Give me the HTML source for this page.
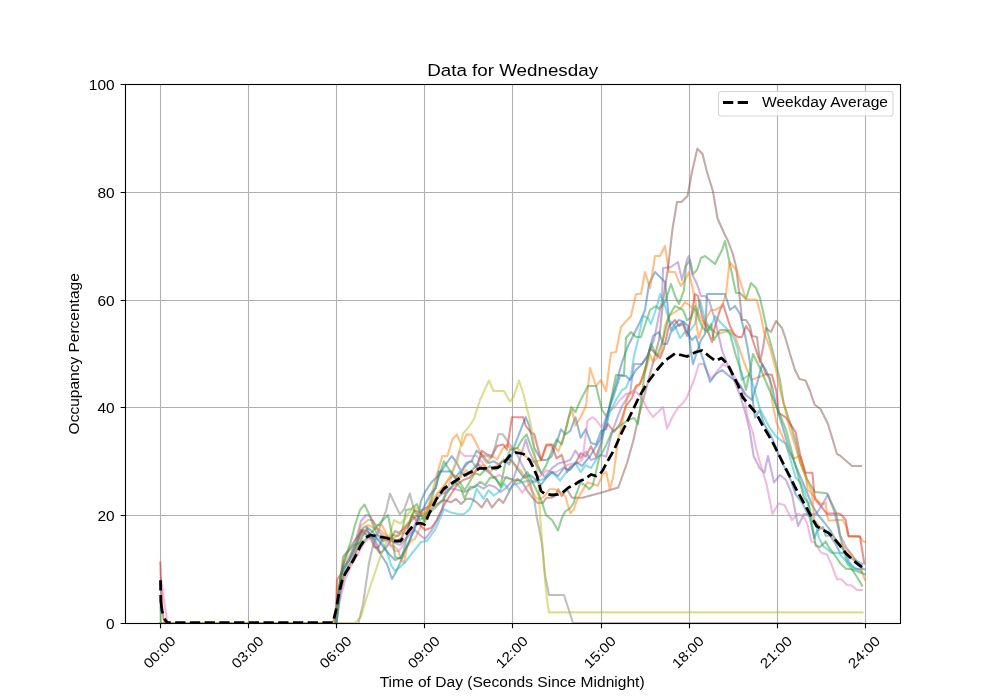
<!DOCTYPE html><html><head><meta charset="utf-8"><style>html,body{margin:0;padding:0;background:#fff;}svg{display:block;will-change:transform;}text{font-family:"Liberation Sans",sans-serif;fill:#000;}</style></head><body><svg width="1000" height="700" viewBox="0 0 1000 700"><rect x="0" y="0" width="1000" height="700" fill="#fff"/><path d="M160.5 84.0V623.0M248.5 84.0V623.0M336.5 84.0V623.0M424.5 84.0V623.0M512.5 84.0V623.0M601.5 84.0V623.0M689.5 84.0V623.0M777.5 84.0V623.0M865.5 84.0V623.0M125.0 623.5H900.0M125.0 515.5H900.0M125.0 407.5H900.0M125.0 300.5H900.0M125.0 192.5H900.0M125.0 84.5H900.0" stroke="#b0b0b0" stroke-width="1.11" fill="none"/><path d="M160.8 578.5 L164.0 600.0 L167.1 620.8 L168.5 623.0" stroke="#e377c2" stroke-opacity="0.5" stroke-width="2.08" fill="none" stroke-linejoin="round" stroke-linecap="square"/><path d="M160.3 562.6 L161.2 585.0 L162.3 608.0 L163.5 619.0 L165.5 623.0" stroke="#d62728" stroke-opacity="0.5" stroke-width="2.08" fill="none" stroke-linejoin="round" stroke-linecap="square"/><path d="M160.5 606.8 L160.9 623.0" stroke="#2ca02c" stroke-opacity="0.5" stroke-width="2.08" fill="none" stroke-linejoin="round" stroke-linecap="square"/><path d="M336.5 623.0 L339.0 590.0 L343.0 568.0 L349.0 560.0 L356.0 545.0 L363.0 528.0 L366.0 526.0 L370.0 535.0 L375.0 540.0 L381.0 555.0 L387.0 564.0 L392.0 579.0 L396.0 572.0 L400.0 563.0 L409.0 542.0 L417.0 521.0 L421.0 501.0 L425.0 492.0 L432.0 481.7 L438.9 474.9 L445.7 464.6 L451.7 456.0 L456.9 462.9 L461.2 471.5 L466.3 462.9 L471.5 461.2 L476.6 450.9 L481.7 454.3 L488.6 462.9 L493.7 461.2 L498.9 464.6 L504.0 459.4 L509.2 464.6 L513.7 448.0 L518.9 434.3 L525.7 417.2 L529.2 425.7 L534.3 448.0 L541.2 460.0 L546.3 460.0 L551.5 456.6 L556.6 442.9 L560.9 429.2 L565.2 434.3 L570.3 430.9 L575.5 417.2 L580.6 437.7 L585.8 429.2 L590.9 442.9 L596.0 444.6 L601.2 430.9 L606.3 429.2 L610.0 404.0 L616.0 384.0 L622.0 362.0 L628.0 346.0 L634.0 334.0 L640.0 322.0 L645.0 310.0 L649.0 284.0 L655.0 272.0 L659.0 276.0 L665.0 282.0 L667.0 300.0 L669.0 320.0 L671.0 330.0 L675.0 324.0 L679.0 320.0 L684.0 322.0 L688.0 326.0 L691.0 352.0 L693.0 364.0 L697.0 352.0 L701.0 340.0 L705.0 334.0 L707.0 294.0 L711.0 294.0 L725.0 294.0 L730.0 310.0 L735.0 306.0 L740.0 314.0 L744.0 330.0 L748.0 350.0 L751.0 370.0 L752.0 394.0 L755.0 417.6 L759.6 410.4 L764.4 424.8 L771.6 436.8 L776.4 448.8 L783.6 465.6 L790.8 480.0 L795.6 494.4 L802.8 504.0 L810.0 518.4 L814.3 538.6 L817.0 531.0 L822.9 527.0 L825.7 535.7 L830.0 535.7 L835.7 544.3 L840.0 552.9 L845.7 552.9 L848.6 561.4 L854.3 568.6 L860.0 569.3 L865.0 569.3" stroke="#1f77b4" stroke-opacity="0.5" stroke-width="2.08" fill="none" stroke-linejoin="round" stroke-linecap="square"/><path d="M335.5 623.0 L338.0 590.0 L342.0 570.0 L348.0 558.0 L355.0 547.0 L361.0 526.0 L368.0 520.0 L372.0 520.0 L376.0 525.0 L382.0 525.0 L385.0 531.0 L388.0 537.0 L391.0 545.0 L395.0 547.0 L398.0 550.0 L401.0 560.0 L404.0 563.0 L407.0 547.0 L411.0 541.0 L415.0 539.0 L419.0 530.0 L424.0 520.0 L430.0 500.0 L436.0 478.0 L442.3 456.0 L447.4 456.0 L452.6 438.9 L456.9 434.6 L462.0 445.7 L466.3 434.6 L471.5 434.6 L476.6 444.0 L481.7 456.0 L486.9 462.9 L492.0 456.0 L497.2 459.4 L502.3 449.2 L506.9 444.6 L512.0 449.7 L517.2 448.0 L525.7 456.6 L534.0 462.0 L541.2 460.0 L546.3 446.3 L553.2 444.6 L558.3 451.5 L563.5 437.7 L568.6 417.2 L572.0 410.3 L575.5 425.7 L580.6 417.2 L586.0 406.0 L590.0 368.0 L596.0 386.0 L601.0 380.0 L606.0 391.0 L611.0 353.0 L616.0 352.0 L621.0 327.0 L631.0 316.0 L636.0 294.0 L641.0 294.0 L645.0 272.0 L650.0 288.0 L655.0 256.0 L660.0 256.0 L665.0 246.0 L669.0 272.0 L675.0 272.0 L678.0 280.0 L681.0 286.0 L685.0 280.0 L689.0 272.0 L693.0 290.0 L697.0 310.0 L701.0 320.0 L707.0 325.0 L712.0 330.0 L718.0 334.0 L724.0 332.0 L730.0 330.0 L735.0 336.0 L740.0 350.0 L744.0 362.0 L748.0 372.0 L752.0 380.0 L756.0 378.0 L762.0 376.0 L766.0 374.0 L770.0 378.0 L772.0 400.0 L776.4 422.4 L783.6 439.2 L788.4 451.2 L793.2 458.4 L800.4 456.0 L805.2 472.8 L807.6 489.6 L814.8 496.8 L817.0 500.0 L820.0 503.0 L822.9 504.3 L825.7 502.9 L827.0 515.0 L828.6 520.7 L837.0 520.0 L842.9 520.0 L846.0 526.0 L848.6 536.0 L860.0 536.8 L863.0 541.0 L865.0 542.0" stroke="#ff7f0e" stroke-opacity="0.5" stroke-width="2.08" fill="none" stroke-linejoin="round" stroke-linecap="square"/><path d="M335.5 623.0 L338.0 600.0 L340.0 579.0 L344.5 559.0 L350.7 542.0 L355.0 525.0 L360.0 510.0 L364.5 504.5 L369.0 514.0 L373.0 525.0 L377.0 534.0 L383.0 541.0 L388.0 540.0 L392.0 535.0 L398.0 536.0 L402.0 533.0 L406.0 510.0 L411.0 509.0 L417.0 504.0 L421.0 515.0 L425.0 522.0 L430.0 505.0 L433.7 492.0 L438.9 476.6 L444.0 461.2 L449.2 469.7 L454.3 476.6 L459.4 481.7 L464.6 490.3 L469.7 481.7 L474.9 473.2 L480.0 475.0 L485.0 470.0 L490.3 473.2 L495.0 478.0 L500.6 485.2 L505.8 461.2 L510.0 450.0 L517.2 448.0 L522.3 439.4 L526.6 434.3 L530.9 446.3 L536.0 460.0 L541.2 473.7 L546.3 465.2 L551.5 451.5 L556.6 439.4 L561.7 444.6 L566.9 425.7 L571.2 406.9 L575.5 412.0 L580.6 400.0 L588.0 386.0 L596.0 386.0 L602.0 410.0 L607.0 417.0 L611.0 400.0 L616.0 375.0 L624.0 375.0 L626.0 338.0 L631.0 332.0 L636.0 337.0 L641.0 337.0 L650.0 310.0 L656.0 306.0 L659.0 309.0 L665.0 302.0 L671.0 284.0 L675.0 296.0 L679.0 304.0 L684.0 290.0 L686.0 266.0 L690.0 260.0 L693.0 274.0 L697.0 270.0 L701.0 258.0 L705.0 256.0 L715.0 264.0 L722.0 250.0 L725.0 241.0 L731.0 269.5 L736.0 293.0 L740.0 293.0 L746.0 299.0 L751.0 283.0 L756.0 288.0 L760.0 298.0 L764.0 316.0 L768.0 334.0 L774.0 356.0 L780.0 380.0 L783.6 403.2 L790.8 424.8 L795.6 441.6 L800.4 463.2 L807.6 480.0 L814.8 492.0 L826.8 493.2 L830.0 500.0 L835.7 511.4 L838.6 525.7 L840.0 535.7 L842.9 547.0 L847.0 563.0 L851.4 568.6 L857.0 577.0 L862.0 585.7" stroke="#2ca02c" stroke-opacity="0.5" stroke-width="2.08" fill="none" stroke-linejoin="round" stroke-linecap="square"/><path d="M335.5 623.0 L337.0 580.0 L342.0 572.0 L348.0 562.0 L355.0 550.0 L361.0 530.0 L366.0 534.0 L371.0 539.0 L374.0 547.0 L378.0 548.0 L382.0 540.0 L385.0 539.0 L390.0 538.0 L393.0 539.0 L397.0 542.0 L402.0 537.0 L405.0 530.0 L409.0 525.0 L412.0 515.0 L416.0 520.0 L420.0 525.0 L425.0 530.0 L431.0 528.0 L437.0 520.0 L444.0 505.0 L451.0 494.0 L457.0 485.0 L463.0 480.0 L469.0 478.0 L476.0 471.0 L481.7 450.9 L486.9 454.3 L492.0 456.0 L497.2 445.7 L503.4 444.6 L506.9 449.7 L512.0 417.2 L523.2 417.2 L525.7 425.7 L530.9 432.6 L534.3 434.3 L536.9 444.6 L541.2 460.0 L546.3 444.6 L551.5 444.6 L556.6 458.3 L561.7 454.9 L566.9 472.0 L570.3 466.9 L575.5 463.5 L580.6 453.2 L585.8 456.6 L590.9 446.3 L596.0 456.6 L601.2 442.9 L604.0 430.0 L608.0 424.0 L614.0 432.0 L620.0 424.0 L626.0 406.0 L632.0 398.0 L636.0 386.0 L640.0 384.0 L646.0 366.0 L650.0 348.0 L654.0 352.0 L660.0 358.0 L664.0 348.0 L669.0 326.0 L675.0 320.0 L679.0 326.0 L683.0 324.0 L687.0 336.0 L691.0 318.0 L695.0 294.0 L698.0 296.0 L702.0 316.0 L709.0 334.0 L712.0 342.0 L714.0 330.0 L720.0 310.0 L723.0 304.0 L730.0 326.0 L734.0 334.0 L738.0 337.0 L742.0 337.0 L746.0 326.0 L750.0 332.0 L754.0 344.0 L758.0 356.0 L762.0 364.0 L766.0 374.0 L772.0 375.0 L776.4 391.2 L778.8 412.8 L786.0 417.6 L790.8 424.8 L795.6 432.0 L800.4 456.0 L805.2 472.8 L812.4 472.8 L814.8 499.0 L820.0 505.0 L826.8 513.6 L838.8 513.6 L841.4 514.7 L845.7 520.0 L848.6 536.4 L860.0 536.4 L864.3 563.6" stroke="#d62728" stroke-opacity="0.5" stroke-width="2.08" fill="none" stroke-linejoin="round" stroke-linecap="square"/><path d="M335.5 623.0 L339.0 595.0 L343.0 570.0 L349.0 560.0 L355.0 543.0 L361.0 521.0 L366.0 515.0 L370.0 516.0 L375.0 525.0 L380.0 533.0 L385.0 537.0 L390.0 540.0 L395.0 543.0 L400.0 545.0 L405.0 540.0 L411.0 533.0 L415.0 530.0 L420.0 535.0 L425.0 539.0 L432.0 530.0 L437.0 520.0 L442.3 509.2 L445.7 490.3 L452.6 488.6 L459.4 490.3 L464.6 492.0 L471.5 488.6 L477.0 485.0 L483.5 488.6 L489.0 485.0 L495.0 487.0 L500.6 492.0 L506.0 488.0 L513.0 480.0 L519.0 462.0 L525.7 439.4 L529.2 451.5 L534.3 461.7 L539.4 470.3 L544.6 477.2 L551.5 468.6 L558.3 463.5 L565.2 461.7 L570.3 460.0 L575.5 450.6 L580.6 458.3 L585.8 451.5 L590.9 460.0 L596.0 458.3 L601.2 454.9 L606.3 456.6 L612.0 432.0 L618.0 416.0 L622.0 406.0 L630.0 394.0 L634.0 364.0 L642.0 364.0 L648.0 354.0 L654.0 340.0 L658.0 320.0 L662.0 300.0 L663.0 268.0 L671.0 267.0 L678.0 262.0 L682.0 280.0 L687.0 260.0 L689.0 256.0 L692.0 274.0 L697.0 284.0 L701.0 296.0 L705.0 296.0 L709.0 300.0 L712.0 310.0 L715.0 320.0 L722.0 350.0 L728.0 366.0 L734.0 380.0 L740.0 395.0 L746.0 415.0 L750.0 432.0 L753.6 456.0 L759.6 468.0 L764.4 472.8 L768.0 456.0 L774.0 482.4 L780.0 475.0 L786.0 480.0 L792.0 494.4 L798.0 526.0 L804.0 514.0 L816.0 514.0 L822.0 505.0 L828.0 494.5 L834.0 511.0 L840.0 535.0 L846.0 547.0 L855.0 559.0 L862.5 568.0" stroke="#9467bd" stroke-opacity="0.5" stroke-width="2.08" fill="none" stroke-linejoin="round" stroke-linecap="square"/><path d="M160.3 623.0 L333.0 623.0 L338.0 600.0 L343.0 557.0 L348.0 551.0 L355.0 540.0 L363.0 530.0 L368.0 532.0 L372.0 537.0 L376.0 548.0 L380.0 553.0 L383.0 551.0 L388.0 545.0 L395.0 531.0 L399.0 533.0 L404.0 528.0 L410.0 522.0 L416.0 516.0 L422.0 516.0 L428.0 512.0 L434.0 506.0 L440.0 502.0 L444.0 500.0 L450.9 502.3 L456.0 498.9 L461.2 504.0 L466.3 498.9 L471.5 498.9 L476.6 502.3 L481.7 507.5 L486.9 498.9 L492.0 507.5 L498.9 498.9 L503.4 502.9 L506.9 496.0 L512.0 485.8 L517.2 478.9 L522.3 482.3 L527.4 490.9 L532.6 497.8 L537.7 502.9 L542.9 502.9 L546.3 497.8 L551.5 497.8 L554.9 496.0 L558.3 489.2 L561.7 496.0 L566.9 489.2 L572.0 497.8 L582.3 497.8 L600.0 493.0 L618.3 487.5 L627.0 463.0 L633.0 442.0 L639.0 415.0 L648.0 382.0 L655.0 355.0 L659.0 340.0 L663.5 298.0 L668.0 268.0 L672.5 229.0 L677.0 202.0 L681.5 202.0 L687.5 196.0 L692.0 172.0 L697.4 148.6 L702.5 154.0 L707.0 172.0 L713.0 191.5 L717.5 218.5 L725.0 235.0 L728.0 241.0 L732.5 253.0 L736.0 266.0 L740.0 300.0 L742.0 320.0 L746.0 320.0 L750.0 326.0 L752.0 336.0 L757.0 337.0 L760.0 362.0 L763.0 348.0 L766.0 328.0 L771.0 332.0 L776.0 321.0 L782.0 328.0 L786.0 340.0 L790.0 354.0 L795.0 370.0 L799.5 379.0 L805.5 380.5 L810.0 391.0 L814.5 404.5 L820.5 409.0 L823.5 415.0 L828.0 424.0 L837.0 454.0 L840.0 455.5 L852.0 466.0 L861.0 466.0" stroke="#8c564b" stroke-opacity="0.5" stroke-width="2.08" fill="none" stroke-linejoin="round" stroke-linecap="square"/><path d="M335.5 623.0 L340.0 600.0 L345.0 580.0 L350.0 568.0 L355.0 559.0 L360.0 550.0 L365.0 542.0 L370.0 538.0 L376.0 535.0 L381.0 536.0 L385.0 537.0 L390.0 545.0 L395.0 551.0 L399.0 551.0 L402.0 547.0 L405.0 540.0 L409.0 534.0 L413.0 528.0 L417.0 520.0 L421.0 510.0 L425.0 509.0 L430.0 505.0 L436.0 500.0 L442.0 492.0 L448.0 488.0 L453.0 470.0 L459.4 450.9 L464.6 456.0 L469.7 456.0 L476.6 456.0 L482.0 462.0 L487.0 470.0 L493.7 478.3 L499.0 475.0 L505.0 478.0 L512.0 479.0 L517.2 485.8 L522.3 492.6 L527.4 485.8 L534.3 480.6 L541.2 475.5 L546.3 470.3 L551.5 472.0 L556.6 472.0 L561.7 468.6 L566.9 465.2 L572.0 463.5 L577.2 463.5 L582.3 460.0 L585.8 434.3 L587.5 420.6 L592.6 417.2 L596.0 420.0 L602.0 428.0 L608.0 412.0 L614.0 408.0 L620.0 400.0 L626.0 394.0 L636.0 392.0 L640.0 396.0 L644.0 402.0 L648.0 410.0 L653.0 417.0 L658.6 411.4 L663.0 407.0 L667.0 428.6 L673.0 415.7 L678.6 407.0 L683.0 403.0 L687.0 397.0 L694.0 380.0 L699.0 364.0 L703.5 364.0 L711.0 379.0 L717.0 371.5 L723.0 364.0 L729.0 368.0 L738.0 382.0 L744.0 394.0 L747.0 415.0 L753.0 433.0 L756.0 448.0 L761.0 466.0 L766.5 484.0 L772.5 514.0 L778.5 503.5 L784.5 505.0 L792.0 520.0 L798.0 514.0 L803.0 515.7 L807.0 522.9 L811.4 541.4 L814.3 542.0 L821.4 552.9 L827.0 554.3 L831.4 564.3 L837.0 579.3 L841.4 579.3 L847.0 585.0 L851.4 585.4 L857.0 590.0 L862.0 590.0" stroke="#e377c2" stroke-opacity="0.5" stroke-width="2.08" fill="none" stroke-linejoin="round" stroke-linecap="square"/><path d="M358.5 623.0 L363.0 604.0 L366.0 583.5 L369.0 563.0 L372.4 548.0 L376.6 536.0 L381.8 521.4 L386.0 511.0 L390.0 493.6 L395.4 505.3 L399.9 514.3 L404.4 508.9 L409.8 493.6 L414.3 510.7 L420.0 512.0 L426.0 508.0 L432.0 505.0 L437.0 498.0 L442.0 494.0 L446.9 492.0 L451.0 487.4 L456.0 484.0 L460.0 476.0 L464.0 468.0 L468.6 462.3 L472.0 461.0 L475.4 466.9 L480.0 457.7 L483.4 455.4 L487.0 456.0 L491.4 457.7 L494.9 447.4 L498.3 434.3 L502.9 434.3 L506.3 439.4 L510.3 445.0 L517.2 454.9 L525.7 472.0 L530.9 485.8 L534.3 499.5 L536.9 518.3 L539.0 528.0 L542.0 544.0 L545.0 575.0 L549.0 595.0 L564.0 595.0 L573.0 623.0 L862.0 623.0" stroke="#7f7f7f" stroke-opacity="0.5" stroke-width="2.08" fill="none" stroke-linejoin="round" stroke-linecap="square"/><path d="M160.3 623.0 L355.0 623.0 L361.0 616.6 L367.0 596.0 L373.5 577.0 L379.7 558.7 L383.8 548.0 L390.0 534.0 L394.0 520.0 L400.4 523.5 L406.6 517.0 L408.0 514.0 L414.0 507.0 L420.0 510.0 L426.0 518.0 L432.0 505.0 L438.0 494.0 L444.0 486.9 L452.6 471.5 L457.7 461.0 L462.9 433.7 L468.0 428.0 L474.0 419.0 L480.0 400.0 L489.0 380.5 L493.5 391.0 L504.0 391.0 L510.0 401.5 L513.6 397.0 L519.0 380.5 L523.5 394.0 L526.0 405.0 L529.2 417.2 L532.6 434.3 L534.3 451.5 L536.9 468.6 L538.6 485.8 L540.3 520.0 L543.0 552.0 L545.0 580.0 L547.0 600.0 L549.0 612.4 L862.5 612.4" stroke="#bcbd22" stroke-opacity="0.5" stroke-width="2.08" fill="none" stroke-linejoin="round" stroke-linecap="square"/><path d="M336.5 623.0 L340.0 590.0 L345.0 568.0 L352.0 555.0 L358.0 540.0 L362.0 533.0 L370.0 537.0 L380.0 540.0 L385.0 547.0 L388.0 555.0 L391.0 565.0 L395.0 571.0 L400.0 567.0 L404.5 563.0 L413.0 552.0 L421.0 542.0 L427.0 541.0 L435.0 530.0 L444.0 509.2 L450.9 512.6 L459.4 514.3 L464.0 514.0 L469.7 509.2 L473.2 500.6 L476.6 488.6 L480.0 493.7 L483.5 498.9 L488.6 490.3 L493.7 495.5 L498.9 492.0 L504.0 483.5 L509.2 490.3 L513.0 485.0 L522.3 482.3 L529.2 480.6 L534.3 482.3 L539.4 480.6 L546.0 478.0 L551.5 472.0 L556.0 476.0 L560.0 480.6 L565.2 473.7 L570.3 468.6 L575.5 463.5 L580.6 472.0 L585.8 465.2 L591.0 468.0 L596.0 460.0 L601.2 448.0 L604.0 428.0 L610.0 412.0 L616.0 400.0 L622.0 390.0 L626.0 388.0 L631.0 376.0 L634.0 356.0 L638.0 340.0 L643.0 316.0 L648.0 318.0 L651.0 324.0 L657.0 306.0 L660.0 294.0 L665.0 306.0 L669.0 320.0 L675.0 326.0 L680.0 338.0 L685.0 332.0 L689.0 332.0 L695.0 324.0 L699.0 306.0 L700.0 300.0 L704.0 316.0 L710.0 330.0 L715.0 316.0 L722.0 324.0 L728.0 330.0 L734.0 338.0 L738.0 350.0 L740.0 370.0 L742.0 380.0 L750.0 374.0 L759.6 408.0 L769.2 427.0 L776.4 436.8 L786.0 444.0 L790.8 460.8 L795.6 477.6 L800.4 482.4 L805.2 494.4 L811.4 515.7 L817.0 528.6 L818.6 537.0 L822.9 545.7 L831.4 552.9 L838.6 552.9 L845.0 560.0 L852.0 566.0 L862.0 572.0" stroke="#17becf" stroke-opacity="0.5" stroke-width="2.08" fill="none" stroke-linejoin="round" stroke-linecap="square"/><path d="M336.5 623.0 L340.0 595.0 L345.0 572.0 L351.0 562.0 L357.0 550.0 L363.0 535.0 L368.0 528.0 L373.0 532.0 L378.0 540.0 L384.0 548.0 L390.0 555.0 L395.0 560.0 L400.0 558.0 L405.0 550.0 L410.0 540.0 L415.0 528.0 L420.0 515.0 L425.0 505.0 L430.0 495.0 L436.0 488.0 L438.9 471.5 L445.7 471.5 L450.9 471.5 L455.0 478.0 L460.0 472.0 L466.0 476.0 L472.0 470.0 L478.0 464.0 L484.0 470.0 L490.0 466.0 L496.0 470.0 L502.0 462.0 L508.0 458.0 L513.0 462.0 L518.0 470.0 L524.0 478.0 L530.0 475.0 L536.0 480.0 L541.0 485.0 L546.0 478.0 L552.0 472.0 L558.0 476.0 L564.0 468.0 L570.0 470.0 L576.0 462.0 L582.0 466.0 L590.0 456.0 L600.0 440.0 L604.0 428.0 L608.0 412.0 L614.0 395.0 L620.0 376.0 L626.0 376.0 L630.0 380.0 L636.0 370.0 L642.0 364.0 L648.0 356.0 L653.0 336.0 L659.0 332.0 L663.0 344.0 L667.0 344.0 L671.0 332.0 L677.0 326.0 L683.0 322.0 L687.0 332.0 L692.0 340.0 L696.0 336.0 L700.0 350.0 L704.0 362.0 L710.0 382.0 L716.0 374.0 L722.0 370.0 L728.0 375.0 L734.0 380.0 L740.0 385.0 L746.0 395.0 L752.0 400.0 L758.0 380.0 L762.0 364.0 L766.0 370.0 L772.0 386.0 L776.0 405.0 L782.0 425.0 L788.0 445.0 L794.0 462.0 L800.0 476.0 L806.0 490.0 L812.0 505.0 L818.0 515.0 L824.0 522.0 L830.0 530.0 L836.0 540.0 L842.0 548.0 L848.0 556.0 L854.0 560.0 L862.0 564.0" stroke="#1f77b4" stroke-opacity="0.5" stroke-width="2.08" fill="none" stroke-linejoin="round" stroke-linecap="square"/><path d="M335.5 623.0 L339.0 595.0 L344.0 575.0 L350.0 565.0 L356.0 552.0 L362.0 535.0 L368.0 525.0 L374.0 528.0 L380.0 530.0 L386.0 535.0 L392.0 540.0 L398.0 535.0 L404.0 528.0 L410.0 520.0 L415.0 510.0 L420.0 515.0 L425.0 512.0 L430.0 505.0 L436.0 495.0 L442.0 488.0 L448.0 480.0 L454.0 475.0 L460.0 478.0 L466.0 470.0 L472.0 474.0 L478.0 468.0 L484.0 465.0 L490.0 472.0 L496.0 466.0 L502.0 462.0 L508.0 460.0 L514.0 464.0 L520.0 470.0 L525.7 477.2 L530.9 489.2 L536.0 497.8 L539.4 499.5 L544.6 496.0 L549.7 489.2 L554.9 489.2 L560.0 492.6 L565.2 496.0 L570.3 513.2 L573.7 509.8 L577.2 499.5 L582.3 490.9 L587.5 482.3 L592.6 484.0 L597.8 485.8 L602.9 473.7 L606.3 472.0 L609.8 489.2 L613.2 477.2 L618.0 440.0 L622.0 424.0 L628.0 394.0 L634.0 390.0 L640.0 384.0 L646.0 370.0 L650.0 354.0 L653.0 362.0 L657.0 358.0 L661.0 352.0 L665.0 326.0 L669.0 316.0 L675.0 312.0 L681.0 308.0 L685.0 302.0 L690.0 306.0 L695.0 310.0 L697.0 328.0 L699.0 338.0 L703.0 324.0 L711.0 310.0 L715.0 310.0 L722.0 306.0 L726.0 294.0 L729.5 262.0 L733.0 266.0 L737.0 271.0 L746.0 299.5 L756.5 299.5 L761.0 316.0 L764.0 332.0 L770.0 348.0 L776.0 370.0 L780.0 390.0 L786.0 412.0 L790.0 430.0 L795.0 445.0 L800.0 462.0 L806.0 478.0 L812.0 492.0 L814.3 520.0 L818.6 525.7 L824.0 530.0 L828.6 532.9 L832.0 536.0 L837.0 541.4 L842.9 545.7 L848.6 551.4 L854.3 558.6 L860.0 567.0 L865.0 580.0" stroke="#ff7f0e" stroke-opacity="0.5" stroke-width="2.08" fill="none" stroke-linejoin="round" stroke-linecap="square"/><path d="M335.5 623.0 L339.0 590.0 L343.0 565.0 L348.0 552.0 L354.0 545.0 L360.0 543.0 L365.0 540.0 L371.0 533.0 L380.0 523.0 L388.0 515.0 L392.0 535.0 L395.0 557.0 L398.0 558.0 L402.0 558.0 L405.0 545.0 L409.0 525.0 L414.0 510.0 L420.0 520.0 L427.0 515.0 L435.0 508.0 L442.3 500.6 L449.0 490.0 L455.0 482.0 L461.2 488.6 L464.6 498.9 L469.7 486.9 L474.9 486.9 L480.0 481.7 L485.2 485.2 L490.0 478.0 L495.0 477.0 L500.6 486.9 L506.0 477.0 L513.0 480.0 L520.6 480.6 L527.4 472.0 L534.3 485.8 L541.2 500.0 L546.0 515.0 L552.0 520.0 L558.0 530.5 L561.7 518.3 L565.2 511.5 L570.3 508.0 L573.7 503.0 L575.5 496.0 L580.6 482.3 L585.8 485.8 L589.2 489.2 L592.6 485.8 L596.0 472.0 L599.5 456.6 L602.9 451.5 L606.3 444.6 L612.0 432.0 L620.0 426.0 L628.0 420.0 L634.0 418.0 L638.0 424.0 L642.0 394.0 L645.0 370.0 L651.0 344.0 L657.0 356.0 L663.0 340.0 L669.0 316.0 L675.0 306.0 L679.0 308.0 L683.0 310.0 L687.0 320.0 L691.0 318.0 L695.0 306.0 L699.0 320.0 L703.0 328.0 L707.0 332.0 L711.0 324.0 L714.0 340.0 L720.0 330.0 L726.0 330.0 L730.0 334.0 L736.0 356.0 L742.0 374.0 L746.0 390.0 L750.0 370.0 L753.0 354.0 L758.0 364.0 L762.0 372.0 L766.0 382.0 L772.0 396.0 L778.0 410.0 L786.0 430.0 L792.0 452.0 L798.0 475.0 L804.0 498.0 L808.6 502.9 L811.4 521.4 L814.3 537.0 L815.7 545.7 L820.0 547.0 L825.7 541.4 L828.6 547.0 L834.3 554.3 L840.0 562.9 L845.7 568.6 L851.4 569.3 L857.0 571.4 L865.0 574.3" stroke="#2ca02c" stroke-opacity="0.5" stroke-width="2.08" fill="none" stroke-linejoin="round" stroke-linecap="square"/><path d="M160.5 580.3 L160.8 601.4 L162.0 610.5 L163.7 617.4 L166.0 621.3 L168.3 622.6" stroke="#000" stroke-width="2.78" fill="none" stroke-dasharray="10.2 4.5 18.6 5.5 30" stroke-linejoin="round"/><path d="M168.3 622.6 L333.0 622.6 L336.0 610.0 L339.0 593.0 L342.0 581.0 L345.0 574.0 L348.0 569.0 L354.0 559.0 L360.0 547.0 L366.0 537.5 L370.5 535.0 L378.0 536.5 L387.0 538.0 L394.5 541.0 L400.5 541.0 L408.0 532.0 L414.0 524.5 L420.0 523.0 L424.5 524.5 L429.0 514.0 L436.5 499.0 L444.0 488.5 L453.0 482.5 L462.0 476.5 L471.0 472.0 L480.0 468.4 L489.0 468.4 L498.0 467.5 L502.5 464.5 L510.0 455.5 L516.0 452.5 L523.5 454.0 L529.5 460.0 L533.0 467.0 L537.0 476.0 L541.0 491.0 L545.0 494.0 L552.0 495.0 L558.0 494.4 L562.0 493.0 L568.6 487.5 L575.5 484.0 L580.0 481.0 L585.8 478.5 L591.0 474.5 L596.0 476.0 L600.0 474.0 L603.0 470.0 L606.0 464.0 L610.0 457.0 L614.0 450.0 L618.0 441.0 L622.0 432.0 L626.0 424.0 L630.0 416.0 L639.0 397.0 L648.0 382.0 L657.0 370.0 L664.5 361.0 L675.0 353.5 L681.0 355.0 L687.0 356.5 L696.0 352.0 L702.0 350.5 L709.5 356.5 L715.5 361.0 L721.5 358.0 L727.5 364.0 L733.5 376.0 L738.0 385.0 L742.5 397.0 L750.0 406.0 L756.0 413.0 L763.5 427.0 L772.5 442.0 L780.0 457.0 L787.5 472.0 L795.0 487.0 L802.5 500.5 L807.0 508.6 L813.0 520.0 L817.0 526.4 L823.0 530.0 L828.6 532.9 L834.3 538.6 L840.0 545.7 L845.7 552.9 L851.4 558.6 L857.0 563.6 L862.0 567.1" stroke="#000" stroke-width="2.78" fill="none" stroke-dasharray="10.28 4.44" stroke-dashoffset="7.83" stroke-linejoin="round"/><rect x="125.5" y="84.5" width="775" height="539" fill="none" stroke="#000" stroke-width="1.11" stroke-linejoin="miter"/><path d="M160.5 623.5v4.86M248.5 623.5v4.86M336.5 623.5v4.86M424.5 623.5v4.86M512.5 623.5v4.86M601.5 623.5v4.86M689.5 623.5v4.86M777.5 623.5v4.86M865.5 623.5v4.86M125.5 623.5h-4.86M125.5 515.5h-4.86M125.5 407.5h-4.86M125.5 300.5h-4.86M125.5 192.5h-4.86M125.5 84.5h-4.86" stroke="#000" stroke-width="1.11" fill="none"/><text transform="translate(114.6 629.20) scale(1.11 1)" font-size="13.9" text-anchor="end">0</text><text transform="translate(114.6 521.40) scale(1.11 1)" font-size="13.9" text-anchor="end">20</text><text transform="translate(114.6 412.60) scale(1.11 1)" font-size="13.9" text-anchor="end">40</text><text transform="translate(114.6 305.80) scale(1.11 1)" font-size="13.9" text-anchor="end">60</text><text transform="translate(114.6 198.00) scale(1.11 1)" font-size="13.9" text-anchor="end">80</text><text transform="translate(114.6 90.20) scale(1.11 1)" font-size="13.9" text-anchor="end">100</text><text transform="translate(159.53 652.30) rotate(-45) scale(1.11 1)" font-size="13.9" text-anchor="middle" dominant-baseline="central">00:00</text><text transform="translate(247.60 652.30) rotate(-45) scale(1.11 1)" font-size="13.9" text-anchor="middle" dominant-baseline="central">03:00</text><text transform="translate(335.66 652.30) rotate(-45) scale(1.11 1)" font-size="13.9" text-anchor="middle" dominant-baseline="central">06:00</text><text transform="translate(423.73 652.30) rotate(-45) scale(1.11 1)" font-size="13.9" text-anchor="middle" dominant-baseline="central">09:00</text><text transform="translate(511.80 652.30) rotate(-45) scale(1.11 1)" font-size="13.9" text-anchor="middle" dominant-baseline="central">12:00</text><text transform="translate(599.87 652.30) rotate(-45) scale(1.11 1)" font-size="13.9" text-anchor="middle" dominant-baseline="central">15:00</text><text transform="translate(687.94 652.30) rotate(-45) scale(1.11 1)" font-size="13.9" text-anchor="middle" dominant-baseline="central">18:00</text><text transform="translate(776.00 652.30) rotate(-45) scale(1.11 1)" font-size="13.9" text-anchor="middle" dominant-baseline="central">21:00</text><text transform="translate(864.07 652.30) rotate(-45) scale(1.11 1)" font-size="13.9" text-anchor="middle" dominant-baseline="central">24:00</text><text transform="translate(512.6 75.9) scale(1.128 1)" font-size="16.67" text-anchor="middle">Data for Wednesday</text><text transform="translate(512.1 686.8) scale(1.12 1)" font-size="13.9" text-anchor="middle">Time of Day (Seconds Since Midnight)</text><text transform="translate(78.6 353.8) rotate(-90) scale(1.117 1)" font-size="13.9" text-anchor="middle">Occupancy Percentage</text><rect x="718.5" y="91.5" width="174.5" height="24.5" rx="2.8" fill="#fff" fill-opacity="0.8" stroke="#cccccc" stroke-opacity="0.8" stroke-width="1.11"/><path d="M723 102.5H751" stroke="#000" stroke-width="2.78" stroke-dasharray="10.28 4.44"/><text transform="translate(762 107.4) scale(1.123 1)" font-size="13.9">Weekday Average</text></svg></body></html>
